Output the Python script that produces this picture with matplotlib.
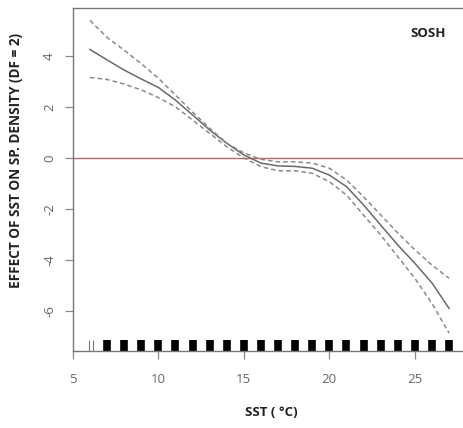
import matplotlib
matplotlib.use("Agg")
import matplotlib.pyplot as plt

plt.rcParams["axes.unicode_minus"] = False
plt.rcParams["font.family"] = ["Open Sans", "DejaVu Sans"]

# SST values (°C) at which the smooth term is evaluated
sst = [6, 7, 8, 9, 10, 11, 12, 13, 14, 15, 16, 17, 18, 19, 20, 21, 22, 23, 24, 25, 26, 27]
# fitted effect of SST on species density
fit = [4.26, 3.85, 3.45, 3.1, 2.77, 2.27, 1.69, 1.1, 0.58, 0.12, -0.2, -0.31, -0.33, -0.4,
       -0.67, -1.12, -1.84, -2.63, -3.41, -4.13, -4.9, -5.9]
# upper / lower confidence bands
upper = [5.4, 4.73, 4.23, 3.7, 3.13, 2.47, 1.8, 1.17, 0.58, 0.2, -0.05, -0.15, -0.15, -0.2,
         -0.4, -0.86, -1.52, -2.23, -2.94, -3.6, -4.2, -4.72]
lower = [3.16, 3.08, 2.9, 2.67, 2.37, 2.01, 1.49, 0.97, 0.44, 0.0, -0.34, -0.5, -0.5, -0.6,
         -0.93, -1.45, -2.24, -3.02, -3.87, -4.72, -5.7, -6.87]

# observation rug
rug_sparse = [5.95, 6.19]
rug_dense = [7, 8, 9, 10, 11, 12, 13, 14, 15, 16, 17, 18, 19, 20, 21, 22, 23, 24, 25, 26, 27]

xticks = [5, 10, 15, 20, 25]
yticks = [-6, -4, -2, 0, 2, 4]

fig = plt.figure(figsize=(4.64, 4.28), dpi=100)
ax = fig.add_axes([0.157, 0.180, 0.855, 0.801])
ax.set_xlim(5, 28.2)
ax.set_ylim(-7.57, 5.88)

ax.axhline(0, color="#b86a6a", lw=1.0, zorder=1)
ax.plot(sst, fit, color="#6a6a6a", lw=1.1, zorder=3)
ax.plot(sst, upper, color="#8a8a8a", lw=1.1, ls=(0, (3, 2)), zorder=3)
ax.plot(sst, lower, color="#8a8a8a", lw=1.1, ls=(0, (3, 2)), zorder=3)

ax.vlines(rug_sparse, 0, 0.032, transform=ax.get_xaxis_transform(), color="#777777", lw=0.8)
ax.vlines(rug_dense, 0, 0.032, transform=ax.get_xaxis_transform(), color="black", lw=5.5)

for s in ["left", "top", "bottom"]:
    ax.spines[s].set_color("#777777")
    ax.spines[s].set_linewidth(1.0)
ax.spines["right"].set_visible(False)

ax.set_xticks(xticks)
ax.set_yticks(yticks)
ax.tick_params(axis="both", direction="out", length=6, width=0.9, color="#888888",
               labelcolor="#666666", labelsize=9.5)
ax.tick_params(axis="y", pad=6)
ax.tick_params(axis="x", pad=10)
for lab in ax.get_yticklabels():
    lab.set_rotation(90)
    lab.set_va("center")

ax.text(0.85, 0.925, "SOSH", transform=ax.transAxes, fontsize=9.5, fontweight="bold",
        color="#222222", ha="left", va="center")

ax.set_xlabel("SST ( °C)", fontsize=9.5, fontweight="bold", color="#222222", labelpad=14)
ax.set_ylabel("EFFECT OF SST ON SP. DENSITY (DF = 2)", fontsize=9.8, fontweight="bold",
              color="#222222")
ax.yaxis.set_label_coords(-0.125, 0.557)

fig.savefig("out.png", dpi=100)
